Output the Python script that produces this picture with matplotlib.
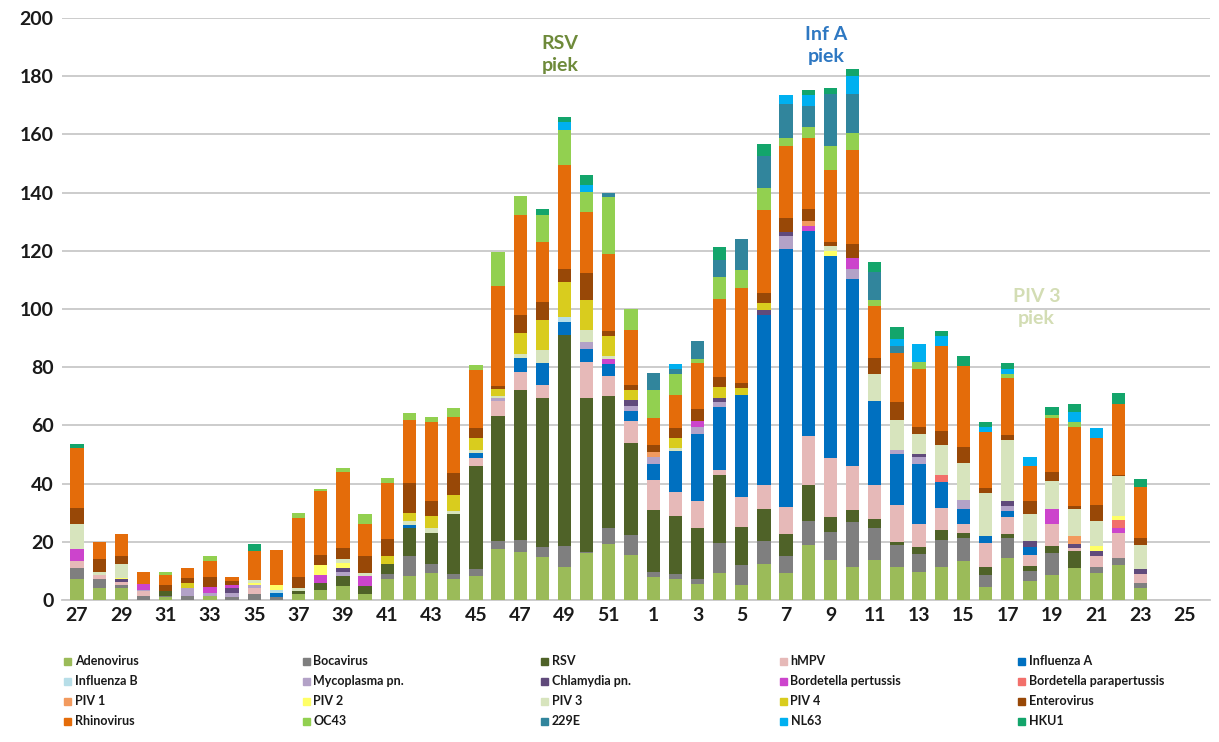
import numpy as np
import matplotlib
matplotlib.use("Agg")
import matplotlib.pyplot as plt
from matplotlib.patches import Rectangle

plt.rcParams['font.family'] = ['Lato', 'DejaVu Sans']

weeks = list(range(27, 53)) + list(range(1, 26))
tick_weeks = [27, 29, 31, 33, 35, 37, 39, 41, 43, 45, 47, 49, 51,
              1, 3, 5, 7, 9, 11, 13, 15, 17, 19, 21, 23, 25]

# values per series: weeks 27..52, then weeks 1..25
adenovirus = [7.1, 4.2, 4.2, 0, 1, 0, 1.5, 0, 0, 0, 2, 3.4, 4.8, 1.9, 7.1, 8.2, 9.4, 7.1, 8.2, 17.4, 16.6, 14.9, 11.5, 16.3, 19.1, 15.5] + \
             [8, 7.3, 5.4, 9.2, 5.2, 12.2, 9.3, 19, 13.9, 11.5, 13.9, 11.5, 9.7, 11.5, 13.3, 4.6, 14.5, 6.4, 8.7, 10.9, 9.2, 12.1, 4, 0, 0]
bocavirus = [4, 2.9, 1, 1.5, 0.5, 1.5, 0, 1, 2, 1, 0, 0, 0, 0, 1.7, 6.9, 2.9, 1.7, 2.3, 2.9, 4, 3.4, 6.9, 0.3, 5.7, 6.9] + \
            [1.7, 1.7, 1.7, 10.3, 6.8, 8.1, 5.8, 8.3, 9.3, 15.2, 10.9, 7.3, 6.1, 9.1, 7.9, 4, 6.9, 3.4, 7.5, 0, 2.3, 2.3, 1.7, 0, 0]
rsv = [0, 0, 0, 0, 1.5, 0, 0, 0, 0, 0, 1, 2.3, 3.4, 2.9, 3.4, 9.7, 10.8, 20.6, 35.5, 42.9, 51.5, 51, 72.6, 52.7, 45.3, 31.5] + \
      [21.2, 20, 17.8, 23.5, 13.2, 11, 7.5, 12.1, 5.2, 4.2, 3.1, 1.2, 2.4, 3.6, 1.8, 2.9, 1.2, 1.8, 2.3, 5.8, 0, 0, 0, 0, 0]
hmpv = [2.3, 1.5, 1, 1.5, 0, 0, 0, 0, 2, 0, 0, 0, 0, 0, 0, 0, 0, 0, 2.9, 5.2, 6.3, 4.6, 0, 12.5, 6.9, 7.5] + \
       [10.3, 8, 9.2, 1.6, 10.3, 8.1, 9.3, 17.1, 20.3, 15.2, 11.5, 12.7, 7.9, 7.3, 3, 8.1, 5.8, 4, 7.5, 1.2, 3.5, 8.6, 3.4, 0, 0]
influenza_a = [0, 0, 0, 0, 0, 0, 0, 0, 0, 1.5, 0, 0, 0, 0, 0, 1, 0, 0, 1.7, 0, 4.6, 7.4, 4.6, 4.6, 4, 3.4] + \
              [5.7, 14.3, 22.9, 21.8, 34.9, 58.6, 88.7, 70.2, 69.6, 64.2, 29.1, 17.6, 20.6, 9.1, 5.4, 2.3, 2.3, 2.5, 0, 0, 0, 0, 0, 0, 0]
influenza_b = [0, 0, 0, 0, 0, 0, 0, 0, 0, 1, 0, 0, 0, 0, 0, 0, 0, 0, 0, 0, 0, 0, 1.7, 0, 0, 0] + \
              [0, 0, 0, 0, 0, 0, 0, 0, 0, 0, 0, 0, 0, 0, 0, 0, 0, 0, 0, 0, 0, 0, 0, 0, 0]
mycoplasma = [0, 0, 0, 0.5, 0, 2.5, 1, 1.5, 1, 0, 0, 0, 1.5, 0, 0, 0, 0, 0, 0, 1, 0, 0, 0, 2.3, 0, 1.7] + \
             [2.3, 0, 2.3, 1.7, 0, 0, 4.4, 0, 0, 3.6, 0, 1.2, 2.4, 0, 3, 0, 1.7, 0, 0, 0, 0, 0, 0, 0, 0]
chlamydia = [0, 0, 1, 0, 0, 0, 0, 1.5, 0, 0, 0, 0, 1.4, 0, 0, 0, 0, 0, 0, 0, 0, 0, 0, 0, 0, 2.3] + \
            [0, 0, 0, 1.2, 0, 1.8, 1.5, 0, 0, 0, 0, 0, 1.2, 0, 0, 0, 1.7, 2.1, 0, 1.2, 1.7, 0, 1.7, 0, 0]
pertussis = [4, 0, 0, 2, 0, 0, 2, 1, 0, 0, 0, 2.9, 0, 3.4, 0, 0, 0, 0, 0, 0, 0, 0, 0, 0, 1.7, 0] + \
            [0, 0, 2.3, 0, 0, 0, 0, 1.7, 0, 3.7, 0, 0, 0, 0, 0, 0, 0, 0, 5.2, 0, 0, 1.7, 0, 0, 0]
parapertussis = [0, 0, 0, 0, 0, 0, 0, 0, 0, 0, 0, 0, 0, 0, 0, 0, 0, 0, 0, 0, 0, 0, 0, 0, 0, 0] + \
                [0, 0, 0, 0, 0, 0, 0, 0, 0, 0, 0, 0, 0, 2.4, 0, 0, 0, 0, 0, 0, 0, 2.9, 0, 0, 0]
piv1 = [0, 0, 0, 0, 0, 0, 0, 0, 0, 0, 0, 0, 0, 0, 0, 0, 0, 0, 0, 0, 0, 0, 0, 0, 0, 0] + \
       [1.7, 0, 0, 0, 0, 0, 0, 1.7, 0, 0, 0, 0, 0, 0, 0, 0, 0, 0, 0, 2.9, 0, 0, 0, 0, 0]
piv2 = [0, 0, 0.5, 0, 0, 0, 0, 0, 1, 1.5, 0, 3.5, 1.5, 0, 0, 0, 0, 0, 0, 0, 0, 0, 0, 0, 0, 0] + \
       [0, 0, 0, 0, 0, 0, 0, 0, 1.5, 0, 0, 0, 0, 0, 0, 0, 0, 0, 0, 0, 1.7, 1.2, 0, 0, 0]
piv3 = [8.6, 1, 4.5, 0, 0, 0, 0, 0, 1, 0, 1, 0, 1.4, 1.2, 0, 1.5, 1.7, 1.1, 1.1, 0.7, 1.7, 4.6, 0, 4, 1.1, 0] + \
       [0, 1.1, 0, 0, 0, 0, 0, 0, 2, 0, 9.1, 10.3, 6.7, 10.3, 12.7, 15, 20.8, 9.3, 9.8, 9.2, 8.6, 13.8, 8.1, 0, 0]
piv4 = [0, 0, 0, 0, 0, 2, 0, 0, 0, 0, 0, 0, 0, 0, 2.9, 2.5, 4, 5.7, 4, 2.3, 6.9, 10.3, 12, 10.3, 6.9, 3.4] + \
       [0, 3.4, 0, 4, 2.3, 2.3, 0, 0, 0, 0, 0, 0, 0, 0, 0, 0, 0, 0, 0, 0, 0, 0, 0, 0, 0]
enterovirus = [5.5, 4.4, 3, 0, 2, 1.5, 3.5, 1.5, 0, 0, 4, 3.4, 4, 5.8, 5.7, 10.3, 5.1, 7.4, 3.4, 1.1, 6.3, 6.3, 4.6, 9.2, 1.7, 1.7] + \
              [2.3, 3.4, 4, 3.4, 1.8, 3.5, 4.6, 4.1, 1.2, 4.8, 5.4, 6.1, 2.4, 4.8, 5.4, 1.7, 1.7, 4.6, 2.9, 1.2, 5.8, 0.5, 2.3, 0, 0]
rhinovirus = [20.8, 6, 7.4, 4.1, 3.6, 3.6, 5.5, 1.5, 10, 12.1, 20.1, 21.8, 26.1, 10.8, 19.5, 21.7, 27.4, 19.4, 20.1, 34.4, 34.4, 20.6, 35.5, 21.2, 26.4, 18.9] + \
             [9.2, 11.4, 16, 26.9, 32.6, 28.4, 24.9, 24.4, 24.9, 32.1, 18.2, 16.9, 20, 29.1, 27.9, 19.1, 19.7, 12.1, 18.5, 27, 23, 24.4, 17.8, 0, 0]
oc43 = [0, 0, 0, 0, 1, 0, 1.6, 0, 0, 0, 1.7, 0.7, 1.2, 3.7, 1.7, 2.6, 1.7, 2.9, 1.7, 11.8, 6.5, 9.2, 12, 6.9, 19.7, 7.1] + \
       [9.7, 6.9, 1.1, 7.5, 6.3, 7.5, 2.9, 4, 8.1, 6.1, 1.8, 0, 2.4, 0, 0, 0, 1.2, 0, 1.2, 1.7, 0, 0, 0, 0, 0]
e229 = [0, 0, 0, 0, 0, 0, 0, 0, 0, 0, 0, 0, 0, 0, 0, 0, 0, 0, 0, 0, 0, 0, 0, 0, 1.4, 0] + \
       [5.8, 2, 6.3, 5.7, 10.5, 11.1, 11.6, 7, 18, 13.4, 9.7, 2.4, 0, 0, 0, 0, 0, 0, 0, 0, 0, 0, 0, 0, 0]
nl63 = [0, 0, 0, 0, 0, 0, 0, 0, 0, 0, 0, 0, 0, 0, 0, 0, 0, 0, 0, 0, 0, 0, 2.9, 2.3, 0, 0] + \
       [0, 1.7, 0, 0, 0, 0, 2.9, 4, 0, 6, 0, 2.5, 6.3, 3.6, 0, 1.7, 2, 2.9, 0, 3.5, 3.2, 0, 0, 0, 0]
hku1 = [1.4, 0, 0, 0, 0, 0, 0, 0, 2.4, 0, 0, 0, 0, 0, 0, 0, 0, 0, 0, 0, 0, 1.9, 1.7, 3.4, 0, 0] + \
       [0, 0, 0, 4.6, 0, 4.2, 0, 1.8, 2.1, 2.4, 3.3, 4.2, 0, 1.6, 3.6, 1.7, 2, 0, 2.6, 2.6, 0, 3.7, 2.5, 0, 0]

series_names = ['Adenovirus', 'Bocavirus', 'RSV', 'hMPV', 'Influenza A',
                'Influenza B', 'Mycoplasma pn.', 'Chlamydia pn.', 'Bordetella pertussis', 'Bordetella parapertussis',
                'PIV 1', 'PIV 2', 'PIV 3', 'PIV 4', 'Enterovirus',
                'Rhinovirus', 'OC43', '229E', 'NL63', 'HKU1']
series_values = [adenovirus, bocavirus, rsv, hmpv, influenza_a,
                 influenza_b, mycoplasma, chlamydia, pertussis, parapertussis,
                 piv1, piv2, piv3, piv4, enterovirus,
                 rhinovirus, oc43, e229, nl63, hku1]
series_colors = ['#9BBB59', '#7F7F7F', '#4F6228', '#E6B9B8', '#0070C0',
                 '#B7DEE8', '#B3A2C7', '#604A7B', '#CC44CC', '#F2706B',
                 '#F29A5E', '#FFFF66', '#D7E4BD', '#D9CC1E', '#984807',
                 '#E46C0A', '#92D050', '#31859C', '#00B0F0', '#13A56B']

annotations = [('RSV\npiek', 21.8, 187.5, '#6E8A3A'),
               ('Inf A\npiek', 33.8, 190.5, '#2E78C2'),
               ('PIV 3\npiek', 43.3, 100.5, '#D3DDB4')]

W, H = 1219, 742
fig = plt.figure(figsize=(W / 100, H / 100), dpi=100)
ax = fig.add_axes([62 / W, 142 / H, (1210 - 62) / W, (724 - 142) / H])

x = np.arange(len(weeks))
bottom = np.zeros(len(weeks))
for name, vals, col in zip(series_names, series_values, series_colors):
    v = np.array(vals, dtype=float)
    ax.bar(x, v, width=0.6, bottom=bottom, color=col, linewidth=0, zorder=3)
    bottom += v

slot = 22.16
ax.set_xlim(-(77 - 62) / slot, -(77 - 62) / slot + (1210 - 62) / slot)
ax.set_ylim(0, 200)
ax.set_yticks(np.arange(0, 201, 20))
ax.yaxis.grid(True, color='#C8C8C8', linewidth=1.3, zorder=0)
ax.set_axisbelow(True)
tick_pos = [weeks.index(w) for w in tick_weeks]
ax.set_xticks(tick_pos)
ax.set_xticklabels([str(w) for w in tick_weeks])
for s in ['top', 'right', 'left']:
    ax.spines[s].set_visible(False)
ax.spines['bottom'].set_color('#C8C8C8')
ax.spines['bottom'].set_linewidth(1.3)
ax.tick_params(axis='both', length=0, labelsize=14)
ax.tick_params(axis='y', pad=6)
ax.tick_params(axis='x', pad=5)
for lab in ax.get_xticklabels() + ax.get_yticklabels():
    lab.set_fontweight('bold')
    lab.set_color('#1A1A1A')

for txt, xa, ya, col in annotations:
    ax.text(xa, ya, txt, ha='center', va='center', fontsize=14,
            fontweight='bold', color=col, linespacing=1.35, zorder=5)

# legend laid out as 4 rows x 5 columns
col_x = [64 + 238.5 * j for j in range(5)]
row_y = [661, 681, 701, 721]
for i, (name, col) in enumerate(zip(series_names, series_colors)):
    r, c = divmod(i, 5)
    px, py = col_x[c], row_y[r]
    fig.patches.append(Rectangle((px / W, (H - py - 3.5) / H), 7 / W, 7 / H,
                                 transform=fig.transFigure, color=col, figure=fig))
    fig.text((px + 11) / W, (H - py) / H, name, ha='left', va='center',
             fontsize=9, fontweight='bold', color='#1A1A1A')

fig.savefig('out.png', dpi=100)
